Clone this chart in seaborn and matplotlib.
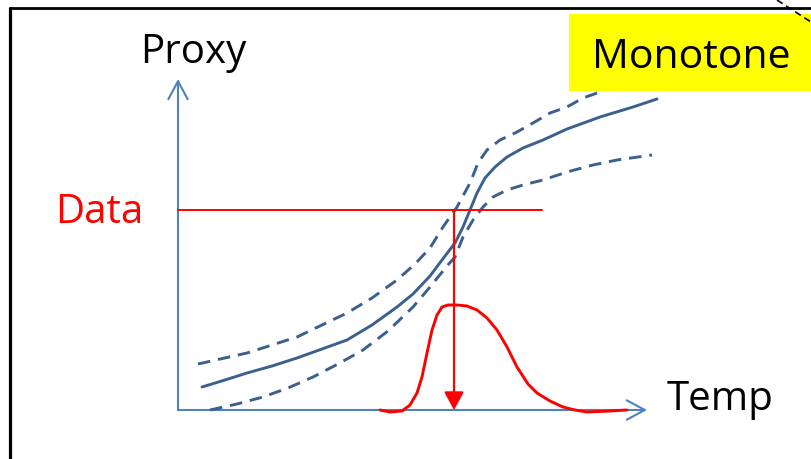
import matplotlib
matplotlib.use("Agg")
import matplotlib.pyplot as plt
from matplotlib.lines import Line2D
from matplotlib.patches import Rectangle
import seaborn as sns
import pandas as pd

# ---- data (diagram units: temp to the right, proxy upward, origin at axes corner)
fit_temp = [24, 47, 69, 94, 119, 144, 169, 194, 219, 235, 252, 264, 277, 285, 292,
            299, 307, 317, 329, 345, 365, 389, 422, 455, 479]
fit_proxy = [23, 30, 37, 44, 52, 61, 70, 85, 103, 116, 134, 150, 167, 183, 200,
             217, 232, 243, 253, 262, 270, 281, 293, 303, 311]

upper_temp = [20, 69, 119, 169, 194, 219, 237, 252, 265, 279, 292, 300, 309, 322,
              339, 355, 372, 389, 405, 422, 437]
upper_proxy = [46, 57, 73, 97, 112, 130, 146, 162, 183, 203, 227, 247, 260, 270,
               278, 287, 297, 303, 312, 318, 324]

lower_temp = [32, 59, 85, 110, 135, 160, 185, 210, 235, 252, 269, 277, 285, 295,
              305, 315, 329, 345, 365, 389, 415, 439, 474]
lower_proxy = [0, 6, 13, 22, 33, 46, 60, 79, 103, 123, 144, 153, 173, 190,
               203, 213, 220, 225, 230, 238, 245, 250, 255]

pdf_temp = [202, 212, 224, 232, 239, 244, 249, 254, 259, 264, 270, 279, 289, 299,
            309, 319, 329, 339, 350, 359, 372, 385, 397, 409, 432, 449]
pdf_proxy = [0, -2, -1, 5, 17, 33, 57, 80, 95, 103, 105, 105, 104, 100,
             92, 80, 63, 43, 26, 17, 9, 3, 0, -2, -1, 0]

data_proxy = 200
data_temp_end = 364
estimate_temp = 276
temp_axis_end = 469
proxy_axis_end = 331

labels = {"x": "Temp", "y": "Proxy", "data": "Data", "box": "Monotone"}

# ---- styling
sns.set_theme(style="white")
plt.rcParams["font.family"] = ["Open Sans", "DejaVu Sans"]

W, H = 811, 459
fig = plt.figure(figsize=(W / 100, H / 100), dpi=100)
ax = fig.add_axes([0, 0, 1, 1])
ax.set_xlim(-178, W - 178)
ax.set_ylim(-(H - 410), 410)
ax.axis("off")

CURVE = "#3B6090"
AXIS = "#4F81BD"
RED = "#FF0000"
DASH = (0, (4.3, 2.7))

fit_df = pd.DataFrame({"temp": fit_temp, "proxy": fit_proxy})
up_df = pd.DataFrame({"temp": upper_temp, "proxy": upper_proxy})
lo_df = pd.DataFrame({"temp": lower_temp, "proxy": lower_proxy})
pdf_df = pd.DataFrame({"temp": pdf_temp, "proxy": pdf_proxy})

common = dict(ax=ax, sort=False, estimator=None, solid_joinstyle="round",
              solid_capstyle="round")
sns.lineplot(data=fit_df, x="temp", y="proxy", color=CURVE, lw=2.1, zorder=3, **common)
sns.lineplot(data=up_df, x="temp", y="proxy", color=CURVE, lw=2.1,
             linestyle=DASH, zorder=2, **common)
sns.lineplot(data=lo_df, x="temp", y="proxy", color=CURVE, lw=2.1,
             linestyle=DASH, zorder=3, **common)

# axes arrows
arrow_axis = dict(arrowstyle="->,head_length=0.65,head_width=0.35",
                  color=AXIS, lw=1.5, shrinkA=0, shrinkB=0, mutation_scale=20)
ax.annotate("", xy=(temp_axis_end, 0), xytext=(0, 0), arrowprops=arrow_axis, zorder=2)
ax.annotate("", xy=(0, proxy_axis_end), xytext=(0, 0), arrowprops=arrow_axis, zorder=2)

# red pdf curve
sns.lineplot(data=pdf_df, x="temp", y="proxy", color=RED, lw=2.1, zorder=4, **common)

# data line and arrow
ax.plot([0, data_temp_end], [data_proxy, data_proxy], color=RED, lw=1.4, zorder=4)
ax.annotate("", xy=(estimate_temp, 0), xytext=(estimate_temp, data_proxy),
            arrowprops=dict(arrowstyle="-|>,head_length=0.55,head_width=0.3",
                            color=RED, lw=1.6, shrinkA=0, shrinkB=0,
                            mutation_scale=20), zorder=5)

# texts
ax.text(-38, 347, labels["y"], fontsize=29, color="black", va="baseline", ha="left")
ax.text(-123, 187, labels["data"], fontsize=29, color=RED, va="baseline", ha="left")
ax.text(489, 0, labels["x"], fontsize=29, color="black", va="baseline", ha="left")

# yellow label box
ax.add_patch(Rectangle((569 - 178, 410 - 91), 260, 77, facecolor="#FFFF00",
                       edgecolor="none", zorder=6))
ax.text(691 - 178, 342, labels["box"], fontsize=29.5, color="black",
        va="baseline", ha="center", zorder=7)

# slide frame
fig.add_artist(Line2D([10 / W, 1], [1 - 8 / H, 1 - 8 / H], color="black", lw=2))
fig.add_artist(Line2D([10 / W, 10 / W], [0, 1 - 8 / H], color="black", lw=2.3))
fig.add_artist(Line2D([777 / W, 1], [1, 1 - 22 / H], color="black", lw=1.2,
                      linestyle=(0, (4, 2.5))))

fig.savefig("out.png", dpi=100)
